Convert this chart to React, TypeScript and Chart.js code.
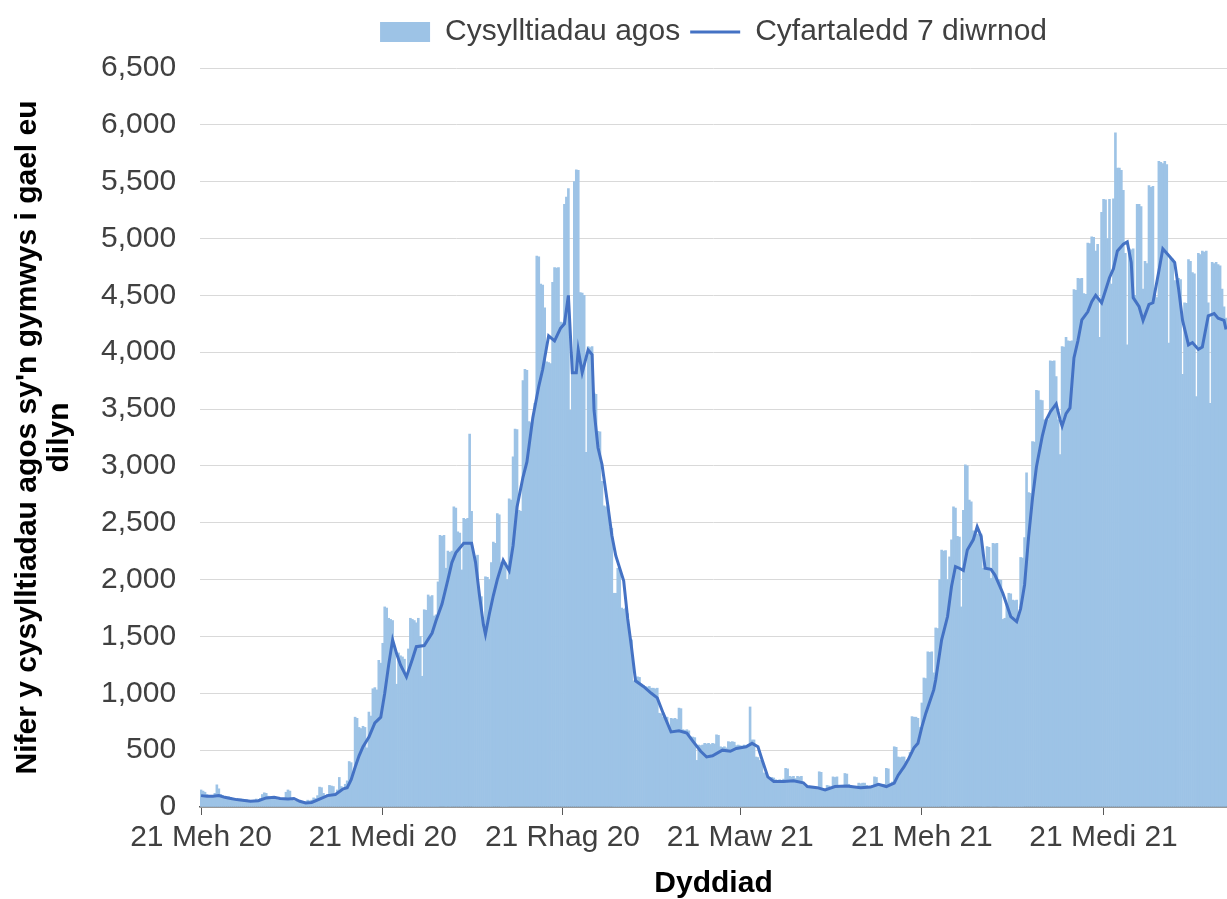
import React, { useEffect, useRef } from 'react';
import { Chart, registerables } from 'chart.js';

Chart.register(...registerables);

// ---------- data ----------
const START_DATE = '2020-06-21';
const BAR_LABEL = 'Cysylltiadau agos';
const LINE_LABEL = 'Cyfartaledd 7 diwrnod';
const X_TITLE = 'Dyddiad';
const Y_TITLE = ["Nifer y cysylltiadau agos sy'n gymwys i gael eu", 'dilyn'];

const TICK_DATES = ['2020-06-21', '2020-09-21', '2020-12-21', '2021-03-21', '2021-06-21', '2021-09-21'];
const TICK_LABELS = ['21 Meh 20', '21 Medi 20', '21 Rhag 20', '21 Maw 21', '21 Meh 21', '21 Medi 21'];

// daily close contacts, one value per day from 21 Jun 2020
const DAILY_CONTACTS = [
  150, 140, 130, 110, 100, 90, 95, 120, 195, 160,
  110, 100, 85, 80, 90, 85, 70, 75, 65, 60,
  70, 60, 55, 65, 50, 45, 55, 60, 70, 60,
  75, 110, 125, 120, 95, 85, 90, 80, 70, 65,
  75, 70, 60, 130, 150, 140, 70, 55, 50, 45,
  40, 35, 30, 45, 60, 55, 60, 80, 75, 100,
  175, 170, 120, 90, 110, 190, 185, 180, 120, 150,
  260, 180, 160, 200, 230, 400, 390, 300, 790, 780,
  700, 690, 710, 700, 520, 835, 800, 1040, 1050, 1030,
  1290, 1265, 1440, 1760, 1750, 1660, 1650, 1640, 1400, 1080,
  1355, 1330, 1320, 1300, 1150, 1390, 1660, 1650, 1640, 1620,
  1660, 1500, 1150, 1735, 1730, 1865, 1850, 1860, 1680, 1690,
  1980, 2390, 2380, 2390, 2100, 2250, 2240, 2250, 2640, 2630,
  2420, 2410, 2085, 2540, 2530, 2540, 3280, 2600, 2215, 2200,
  2215, 1860, 1850, 1565, 2025, 2020, 2000, 2150, 2330, 2320,
  2580, 2570, 2150, 2140, 2150, 2000, 2710, 2700, 3080, 3325,
  3320, 2610, 2600, 3750, 3850, 3840, 3390, 3380, 3390, 3550,
  4845, 4840, 4600, 4590, 4390, 3915, 3910, 3900, 4615, 4745,
  4740, 4745, 4265, 4260, 5300, 5365, 5440, 3490, 3935, 5500,
  5605, 5600, 4525, 4520, 4500, 3120, 4050, 4040, 4050, 3640,
  3630, 3305, 3300, 2865, 2650, 2640, 2650, 2460, 2450, 1880,
  1880, 2100, 2090, 1750, 1740, 1750, 1700, 1480, 1470, 1110,
  1100, 1145, 1140, 1080, 1070, 1060, 1055, 1060, 1045, 1045,
  1040, 1045, 825, 820, 790, 785, 790, 700, 780, 775,
  780, 770, 870, 865, 680, 675, 680, 670, 617, 615,
  610, 410, 545, 540, 545, 560, 555, 560, 550, 560,
  555, 635, 630, 530, 525, 530, 520, 575, 570, 575,
  570, 540, 545, 540, 535, 545, 540, 550, 880, 590,
  590, 440, 435, 410, 405, 300, 295, 260, 255, 260,
  255, 240, 235, 240, 235, 245, 340, 335, 270, 265,
  270, 250, 270, 265, 270, 210, 180, 175, 180, 170,
  180, 175, 160, 310, 305, 150, 145, 190, 185, 160,
  265, 260, 265, 190, 180, 185, 295, 290, 200, 190,
  180, 175, 170, 210, 205, 210, 210, 190, 180, 175,
  190, 265, 260, 200, 195, 190, 200, 340, 335, 210,
  220, 530, 525, 440, 435, 440, 440, 400, 395, 480,
  795, 790, 790, 780, 700, 915, 1135, 1130, 1365, 1360,
  1365, 1180, 1575, 1570, 2000, 2260, 2250, 2255, 2000, 2200,
  2350, 2640, 2630, 2380, 2375, 1760, 2610, 3010, 3000, 2700,
  2685, 2430, 2425, 2400, 2395, 2400, 2100, 2095, 2290, 2285,
  2010, 2320, 2315, 2320, 2000, 1995, 1650, 1660, 1780, 1880,
  1875, 1820, 1815, 1820, 1700, 2195, 2190, 2370, 2940, 2765,
  2760, 3215, 3210, 3665, 3660, 3580, 3575, 3405, 3400, 3405,
  3925, 3920, 3925, 3785, 3405, 3100, 4050, 4045, 4130, 4100,
  4095, 4100, 4550, 4545, 4650, 4645, 4650, 4515, 4510, 4960,
  4955, 5015, 5010, 4890, 4950, 4130, 5230, 5345, 5340, 5000,
  5345, 4600, 5350, 5930, 5620, 5620, 5600, 5425, 4870, 4065,
  4910, 4900, 4910, 4500, 5300, 5300, 5280, 4555, 4800, 4780,
  5465, 5450, 5460, 4500, 4480, 5680, 5670, 5660, 5680, 5650,
  4080, 4830, 4820, 4630, 4620, 4650, 4640, 3805, 4435, 4430,
  4815, 4800, 4700, 4690, 3610, 4870, 4860, 4890, 4880, 4890,
  4435, 3550, 4790, 4780, 4790, 4770, 4760, 4555, 4400, 4300,
];

// 7-day average at the day indices below
const AVG_DAY = [
  0, 3, 6, 9, 12, 15, 18, 21, 25, 29,
  33, 37, 40, 44, 47, 50, 53, 56, 60, 64,
  68, 72, 74, 76, 78, 80, 82, 85, 88, 91,
  93, 95, 97, 99, 101, 104, 107, 109, 113, 117,
  119, 122, 125, 127, 129, 133, 137, 139, 141, 143,
  144, 146, 148, 150, 153, 156, 158, 160, 163, 165,
  168, 171, 173, 176, 179, 182, 184, 186, 188, 190,
  191, 193, 196, 198, 199, 201, 203, 206, 208, 210,
  214, 216, 218, 220, 224, 228, 231, 234, 238, 242,
  246, 249, 253, 256, 259, 264, 268, 271, 276, 279,
  282, 284, 287, 290, 295, 300, 305, 307, 312, 316,
  321, 327, 334, 339, 343, 347, 351, 353, 356, 358,
  361, 363, 365, 367, 371, 372, 375, 378, 380, 382,
  384, 386, 388, 391, 393, 395, 397, 400, 402, 406,
  410, 413, 415, 417, 419, 421, 423, 426, 428, 430,
  433, 435, 436, 438, 440, 442, 444, 446, 449, 451,
  453, 456, 460, 462, 464, 467, 469, 471, 472, 475,
  477, 480, 482, 485, 487, 490, 493, 495, 497, 500,
  502, 505, 507, 510, 513, 515, 518, 519,
];
const AVG_VALUE = [
  100, 95, 95, 100, 85, 75, 65, 60, 50, 55,
  80, 85, 75, 70, 75, 50, 35, 40, 70, 100,
  110, 160, 170, 240, 350, 450, 530, 615, 740, 790,
  1000, 1250, 1470, 1350, 1250, 1145, 1300, 1410, 1420, 1530,
  1640, 1785, 2000, 2150, 2235, 2320, 2320, 2150, 1860, 1600,
  1520, 1700, 1860, 2000, 2170, 2080, 2300, 2640, 2900, 3035,
  3425, 3700, 3850, 4145, 4100, 4210, 4250, 4500, 3820, 3820,
  4020, 3820, 4020, 3980, 3490, 3160, 3015, 2650, 2390, 2210,
  1990, 1660, 1400, 1110, 1060, 1000, 960, 825, 660, 670,
  650, 580, 490, 440, 450, 500, 490, 515, 530, 560,
  530, 420, 265, 225, 225, 230, 213, 180, 170, 150,
  180, 185, 170, 175, 200, 180, 210, 280, 355, 415,
  520, 560, 705, 825, 1030, 1120, 1470, 1675, 1940, 2115,
  2100, 2080, 2260, 2350, 2465, 2380, 2100, 2090, 2040, 1880,
  1675, 1630, 1745, 1955, 2370, 2715, 2990, 3265, 3405, 3475,
  3545, 3405, 3350, 3460, 3510, 3950, 4100, 4285, 4355, 4445,
  4500, 4435, 4655, 4735, 4890, 4950, 4970, 4790, 4480, 4400,
  4280, 4420, 4435, 4715, 4910, 4850, 4790, 4555, 4280, 4065,
  4085, 4025, 4045, 4320, 4340, 4300, 4280, 4200,
];

const Y_MIN = 0;
const Y_MAX = 6500;
const Y_STEP = 500;

// ---------- styling ----------
const BAR_COLOR = '#9DC3E6';
const LINE_COLOR = '#4472C4';
const TEXT_COLOR = '#404040';
const FONT_FAMILY = "'Liberation Sans', Arial, Helvetica, sans-serif";

function buildDates(start: string, n: number): string[] {
  const base = new Date(start + 'T00:00:00Z').getTime();
  const out: string[] = [];
  for (let i = 0; i < n; i++) {
    out.push(new Date(base + i * 86400000).toISOString().slice(0, 10));
  }
  return out;
}

const DATES = buildDates(START_DATE, DAILY_CONTACTS.length);

export default function App() {
  const canvasRef = useRef<HTMLCanvasElement | null>(null);

  useEffect(() => {
    document.body.style.margin = '0';
    const canvas = canvasRef.current;
    if (!canvas) return;

    const legendSpacing = {
      id: 'legendSpacing',
      beforeInit(chart: any) {
        const legend = chart.legend;
        if (!legend) return;
        const origFit = legend.fit;
        legend.fit = function () {
          origFit.call(this);
          this.height += 11;
        };
      },
    };

    const chart = new Chart(canvas, {
      type: 'bar',
      data: {
        labels: DATES,
        datasets: [
          {
            type: 'line',
            label: LINE_LABEL,
            data: AVG_DAY.map((d, i) => ({ x: DATES[d], y: AVG_VALUE[i] })) as any,
            borderColor: LINE_COLOR,
            backgroundColor: LINE_COLOR,
            borderWidth: 3,
            pointRadius: 0,
            tension: 0,
            fill: false,
            order: 0,
          } as any,
          {
            type: 'bar',
            label: BAR_LABEL,
            data: DAILY_CONTACTS,
            backgroundColor: BAR_COLOR,
            borderWidth: 0,
            barPercentage: 1,
            categoryPercentage: 1,
            order: 1,
          } as any,
        ],
      },
      options: {
        animation: false,
        responsive: false,
        maintainAspectRatio: false,
        devicePixelRatio: 1,
        layout: { padding: { top: 7, right: 0, bottom: 0, left: 0 } },
        plugins: {
          tooltip: { enabled: false },
          legend: {
            position: 'top',
            fullSize: false,
            labels: {
              usePointStyle: true,
              pointStyleWidth: 50,
              boxHeight: 20,
              padding: 10,
              color: TEXT_COLOR,
              font: { family: FONT_FAMILY, size: 30 },
              generateLabels: () => [
                {
                  text: BAR_LABEL,
                  fillStyle: BAR_COLOR,
                  strokeStyle: BAR_COLOR,
                  lineWidth: 0,
                  pointStyle: 'rect',
                  hidden: false,
                  datasetIndex: 1,
                  fontColor: TEXT_COLOR,
                } as any,
                {
                  text: LINE_LABEL,
                  fillStyle: LINE_COLOR,
                  strokeStyle: LINE_COLOR,
                  lineWidth: 3,
                  pointStyle: 'line',
                  hidden: false,
                  datasetIndex: 0,
                  fontColor: TEXT_COLOR,
                } as any,
              ],
            },
          },
        },
        scales: {
          x: {
            type: 'category',
            offset: true,
            afterBuildTicks: (axis: any) => {
              axis.ticks = TICK_DATES.map((d) => ({ value: DATES.indexOf(d) }));
            },
            ticks: {
              autoSkip: false,
              maxRotation: 0,
              minRotation: 0,
              padding: 8,
              color: TEXT_COLOR,
              font: { family: FONT_FAMILY, size: 30, lineHeight: 1 },
              callback: (value: any) => {
                const idx = TICK_DATES.indexOf(DATES[value as number]);
                return idx >= 0 ? TICK_LABELS[idx] : '';
              },
            },
            grid: {
              display: true,
              offset: false,
              drawOnChartArea: false,
              drawTicks: true,
              tickLength: 8,
              color: '#595959',
              lineWidth: 1,
            },
            border: { display: true, color: '#595959', width: 1.5 },
            title: {
              display: true,
              text: X_TITLE,
              color: '#000000',
              font: { family: FONT_FAMILY, size: 30, weight: 'bold', lineHeight: 1 },
              padding: { top: 8, bottom: 0 },
            },
          },
          y: {
            min: Y_MIN,
            max: Y_MAX,
            ticks: {
              stepSize: Y_STEP,
              padding: 24,
              color: TEXT_COLOR,
              font: { family: FONT_FAMILY, size: 30 },
              callback: (value: any) => Number(value).toLocaleString('en-US'),
            },
            grid: {
              color: '#D9D9D9',
              lineWidth: 1,
              drawTicks: false,
            },
            border: { display: false },
            title: {
              display: true,
              text: Y_TITLE,
              color: '#000000',
              font: { family: FONT_FAMILY, size: 30, weight: 'bold', lineHeight: 32 / 30 },
              padding: { top: 12, bottom: 1 },
            },
          },
        },
      } as any,
      plugins: [legendSpacing],
    });

    return () => {
      chart.destroy();
    };
  }, []);

  return (
    <div style={{ width: 1227, height: 899, background: '#ffffff' }}>
      <canvas ref={canvasRef} width={1227} height={899} style={{ display: 'block' }} />
    </div>
  );
}
